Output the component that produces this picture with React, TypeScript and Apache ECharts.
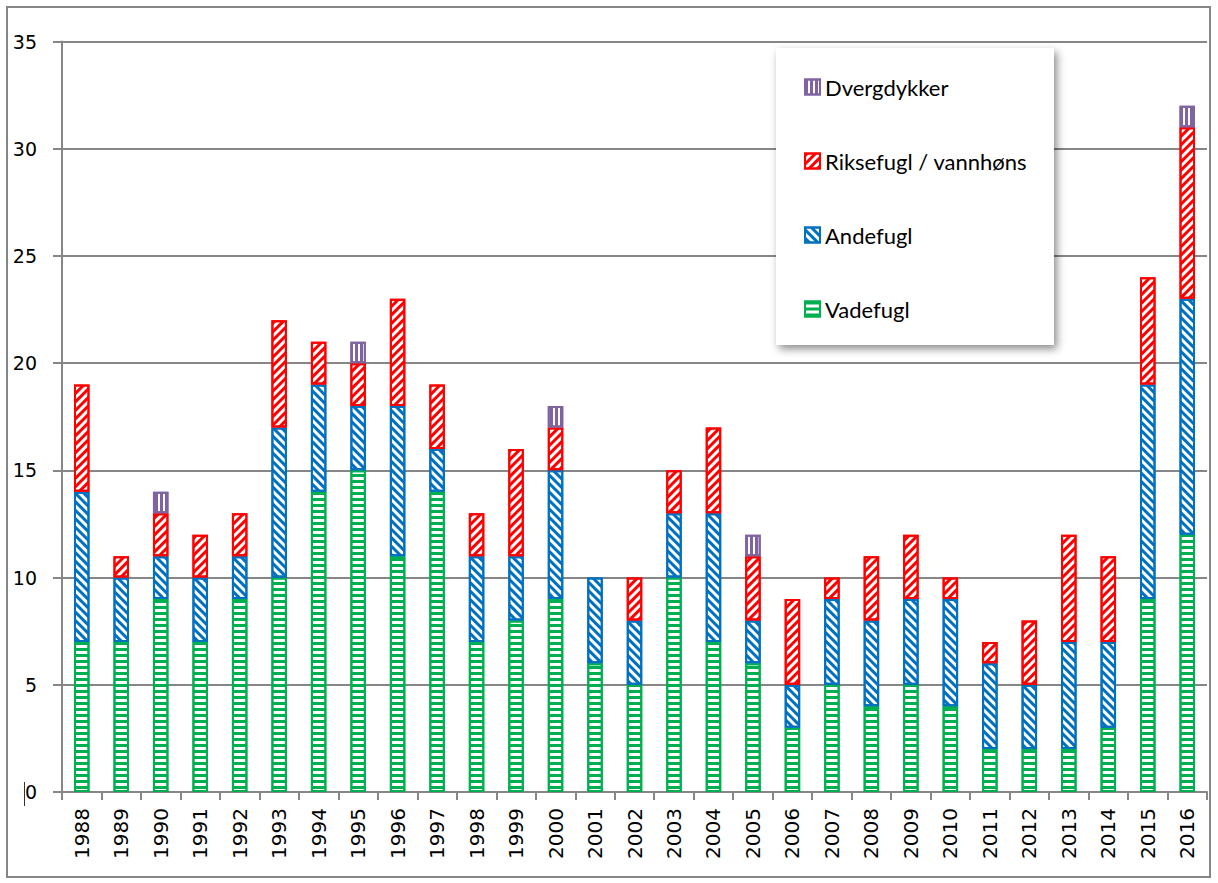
import React, { useEffect, useRef } from "react";
import * as echarts from "echarts";

const years = [
  "1988", "1989", "1990", "1991", "1992", "1993", "1994", "1995", "1996", "1997",
  "1998", "1999", "2000", "2001", "2002", "2003", "2004", "2005", "2006", "2007",
  "2008", "2009", "2010", "2011", "2012", "2013", "2014", "2015", "2016",
];
const vadefugl = [7, 7, 9, 7, 9, 10, 14, 15, 11, 14, 7, 8, 9, 6, 5, 10, 7, 6, 3, 5, 4, 5, 4, 2, 2, 2, 3, 9, 12];
const andefugl = [7, 3, 2, 3, 2, 7, 5, 3, 7, 2, 4, 3, 6, 4, 3, 3, 6, 2, 2, 4, 4, 4, 5, 4, 3, 5, 4, 10, 11];
const riksefugl = [5, 1, 2, 2, 2, 5, 2, 2, 5, 3, 2, 5, 2, 0, 2, 2, 4, 3, 4, 1, 3, 3, 1, 1, 3, 5, 4, 5, 8];
const dvergdykker = [0, 0, 1, 0, 0, 0, 0, 1, 0, 0, 0, 0, 1, 0, 0, 0, 0, 1, 0, 0, 0, 0, 0, 0, 0, 0, 0, 0, 1];

const seriesNames = ["Vadefugl", "Andefugl", "Riksefugl / vannhøns", "Dvergdykker"];
const legendOrder = ["Dvergdykker", "Riksefugl / vannhøns", "Andefugl", "Vadefugl"];
const yTicks = { min: 0, max: 35, interval: 5 };

const GRID = "#868686";
const AXIS_FONT = "DejaVu Sans";

const toData = (arr: number[]) => arr.map((v) => (v === 0 ? "-" : v));

function barSeries(name: string, values: number[], color: string, decal: any) {
  return {
    name,
    type: "bar",
    stack: "total",
    barWidth: 15.5,
    data: toData(values),
    itemStyle: {
      color: "#ffffff",
      borderColor: color,
      borderWidth: 2,
      decal: { symbol: "rect", symbolSize: 1, color, ...decal },
    },
  };
}

export default function App() {
  const ref = useRef<HTMLDivElement>(null);
  useEffect(() => {
    const chart = echarts.init(ref.current as HTMLDivElement, null, { renderer: "svg" });
    const option: any = {
      animation: false,
      backgroundColor: "#ffffff",
      grid: { left: 62, right: 11, top: 41.5, bottom: 91, containLabel: false, outerBoundsMode: "none" },
      xAxis: {
        type: "category",
        data: years,
        axisLine: { show: true, lineStyle: { color: GRID, width: 2 } },
        axisTick: { show: true, length: 8, interval: 0, lineStyle: { color: GRID, width: 2 } },
        axisLabel: { rotate: 90, interval: 0, margin: 16, fontFamily: AXIS_FONT, fontSize: 20, color: "#000" },
        splitLine: { show: false },
      },
      yAxis: {
        type: "value",
        min: yTicks.min,
        max: yTicks.max,
        interval: yTicks.interval,
        axisLine: { show: true, lineStyle: { color: GRID, width: 2 } },
        axisTick: { show: true, length: 9, lineStyle: { color: GRID, width: 2 } },
        splitLine: { show: true, lineStyle: { color: GRID, width: 2 } },
        axisLabel: { margin: 25, fontFamily: AXIS_FONT, fontSize: 19, color: "#000" },
      },
      legend: {
        orient: "vertical",
        left: 804,
        top: 76,
        padding: 0,
        itemWidth: 15,
        itemHeight: 15,
        itemGap: 52,
        icon: "rect",
        selectedMode: false,
        data: legendOrder,
        textStyle: { fontFamily: "Lato", fontSize: 22, lineHeight: 22, color: "#000" },
      },
      graphic: [
        {
          type: "rect",
          z: 3,
          shape: { x: 776, y: 48, width: 278, height: 297 },
          style: {
            fill: "#ffffff",
            stroke: "none",
            shadowBlur: 8,
            shadowOffsetX: 3,
            shadowOffsetY: 4,
            shadowColor: "rgba(0,0,0,0.45)",
          },
        },
        {
          type: "rect",
          z: 10,
          shape: { x: 7, y: 7, width: 1203, height: 870 },
          style: { fill: "none", stroke: GRID, lineWidth: 2 },
        },
        {
          type: "line",
          z: 10,
          shape: { x1: 24.5, y1: 782, x2: 24.5, y2: 806 },
          style: { stroke: "#333", lineWidth: 1 },
        },
      ],
      series: [
        barSeries(seriesNames[0], vadefugl, "#00B050", { dashArrayX: [1, 0], dashArrayY: [2.5, 2.5], rotation: 0 }),
        barSeries(seriesNames[1], andefugl, "#0070C0", { dashArrayX: [1, 0], dashArrayY: [2.6, 2.1], rotation: Math.PI / 4 }),
        barSeries(seriesNames[2], riksefugl, "#FF0000", { dashArrayX: [1, 0], dashArrayY: [2.6, 2.1], rotation: -Math.PI / 4 }),
        barSeries(seriesNames[3], dvergdykker, "#8064A2", { dashArrayX: [3, 1.7], dashArrayY: [1, 0], rotation: 0 }),
      ],
    };
    chart.setOption(option);
    return () => chart.dispose();
  }, []);
  return (
    <div
      ref={ref}
      style={{ position: "fixed", left: 0, top: 0, width: 1218, height: 883, background: "#fff" }}
    />
  );
}
